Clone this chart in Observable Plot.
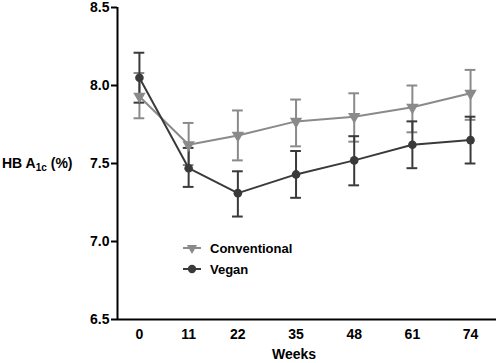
<!DOCTYPE html>
<html><head><meta charset="utf-8">
<script src="https://cdn.jsdelivr.net/npm/d3@7"></script>
<script src="https://cdn.jsdelivr.net/npm/@observablehq/plot@0.6"></script>
<style>body{margin:0;background:#fff}#chart{width:498px;height:363px}</style>
</head><body><div id="chart"></div>
<script>
const weeks = [0, 11, 22, 35, 48, 61, 74];
const seriesNames = ["Conventional", "Vegan"];
const seriesColors = ["#8a8a8a", "#3a3a3a"];
const conventionalMean = [7.93, 7.62, 7.68, 7.77, 7.80, 7.86, 7.95];
const conventionalLow  = [7.79, 7.49, 7.52, 7.61, 7.64, 7.70, 7.78];
const conventionalHigh = [8.08, 7.76, 7.84, 7.91, 7.95, 8.00, 8.10];
const veganMean = [8.05, 7.47, 7.31, 7.43, 7.52, 7.62, 7.65];
const veganLow  = [7.89, 7.35, 7.16, 7.28, 7.36, 7.47, 7.50];
const veganHigh = [8.21, 7.60, 7.45, 7.58, 7.675, 7.77, 7.80];
const yTicks = [6.5, 7.0, 7.5, 8.0, 8.5];
const xLabel = "Weeks";

const conv = weeks.map((w, i) => ({series: "Conventional", week: w, mean: conventionalMean[i], low: conventionalLow[i], high: conventionalHigh[i]}));
const vegan = weeks.map((w, i) => ({series: "Vegan", week: w, mean: veganMean[i], low: veganLow[i], high: veganHigh[i]}));

const xDomain = [-4.9, 79.8];
const capHalf = 1.2;
const font = "'Liberation Sans', Arial, sans-serif";

function errorMarks(data, color) {
  return [
    Plot.ruleX(data, {x: "week", y1: "low", y2: "high", stroke: color, strokeWidth: 2}),
    Plot.ruleY(data, {y: "high", x1: d => d.week - capHalf, x2: d => d.week + capHalf, stroke: color, strokeWidth: 2}),
    Plot.ruleY(data, {y: "low", x1: d => d.week - capHalf, x2: d => d.week + capHalf, stroke: color, strokeWidth: 2})
  ];
}

const chart = Plot.plot({
  width: 498, height: 363,
  marginLeft: 117, marginRight: 2, marginTop: 7, marginBottom: 44,
  style: {fontFamily: font, background: "#fff", color: "#000"},
  x: {domain: xDomain},
  y: {domain: [yTicks[0], yTicks[yTicks.length - 1]]},
  marks: [
    Plot.axisY({ticks: yTicks, tickFormat: d3.format(".1f"), tickSize: 6, tickPadding: 2, fontSize: 14, fontWeight: "bold", strokeWidth: 2, label: null}),
    Plot.axisX({ticks: weeks, tickSize: 0, tickPadding: 10, fontSize: 14, fontWeight: "bold", label: null}),
    Plot.ruleX([xDomain[0]], {stroke: "#000", strokeWidth: 2}),
    Plot.ruleY([yTicks[0]], {stroke: "#000", strokeWidth: 2}),
    ...errorMarks(conv, seriesColors[0]),
    ...errorMarks(vegan, seriesColors[1]),
    Plot.line(conv, {x: "week", y: "mean", stroke: seriesColors[0], strokeWidth: 2}),
    Plot.dot(conv, {x: "week", y: "mean", symbol: "triangle", rotate: 180, r: 4.6, fill: seriesColors[0], stroke: null}),
    Plot.line(vegan, {x: "week", y: "mean", stroke: seriesColors[1], strokeWidth: 2}),
    Plot.dot(vegan, {x: "week", y: "mean", symbol: "circle", r: 4.3, fill: seriesColors[1], stroke: null}),
    Plot.text([xLabel], {x: weeks[3], frameAnchor: "bottom", dy: 39, dx: -2, fontSize: 14, fontWeight: "bold", fill: "#000"})
  ]
});
document.getElementById("chart").append(chart);

const svg = d3.select(chart);
// y-axis label with subscript
const yl = svg.append("text").attr("x", 2).attr("y", 168).attr("text-anchor", "start")
  .attr("font-family", font).attr("font-size", 14).attr("font-weight", "bold").attr("fill", "#000");
yl.append("tspan").text("HB A");
yl.append("tspan").attr("font-size", 10).attr("dy", 3).text("1c");
yl.append("tspan").attr("dy", -3).text(" (%)");

// legend
const lg = svg.append("g").attr("font-family", font).attr("font-size", 13).attr("font-weight", "bold").attr("text-anchor", "start");
seriesNames.forEach((name, i) => {
  const cy = 248 + i * 21;
  const g = lg.append("g").attr("transform", `translate(0,${cy})`);
  g.append("line").attr("x1", 183).attr("x2", 201).attr("stroke", seriesColors[i]).attr("stroke-width", 2);
  const sym = i === 0 ? d3.symbol(d3.symbolTriangle, 45) : d3.symbol(d3.symbolCircle, 55);
  g.append("path").attr("d", sym()).attr("fill", seriesColors[i])
    .attr("transform", `translate(192,0)${i === 0 ? " rotate(180)" : ""}`);
  g.append("text").attr("x", 210).attr("dy", "0.35em").attr("fill", "#000").text(name);
});
</script></body></html>
